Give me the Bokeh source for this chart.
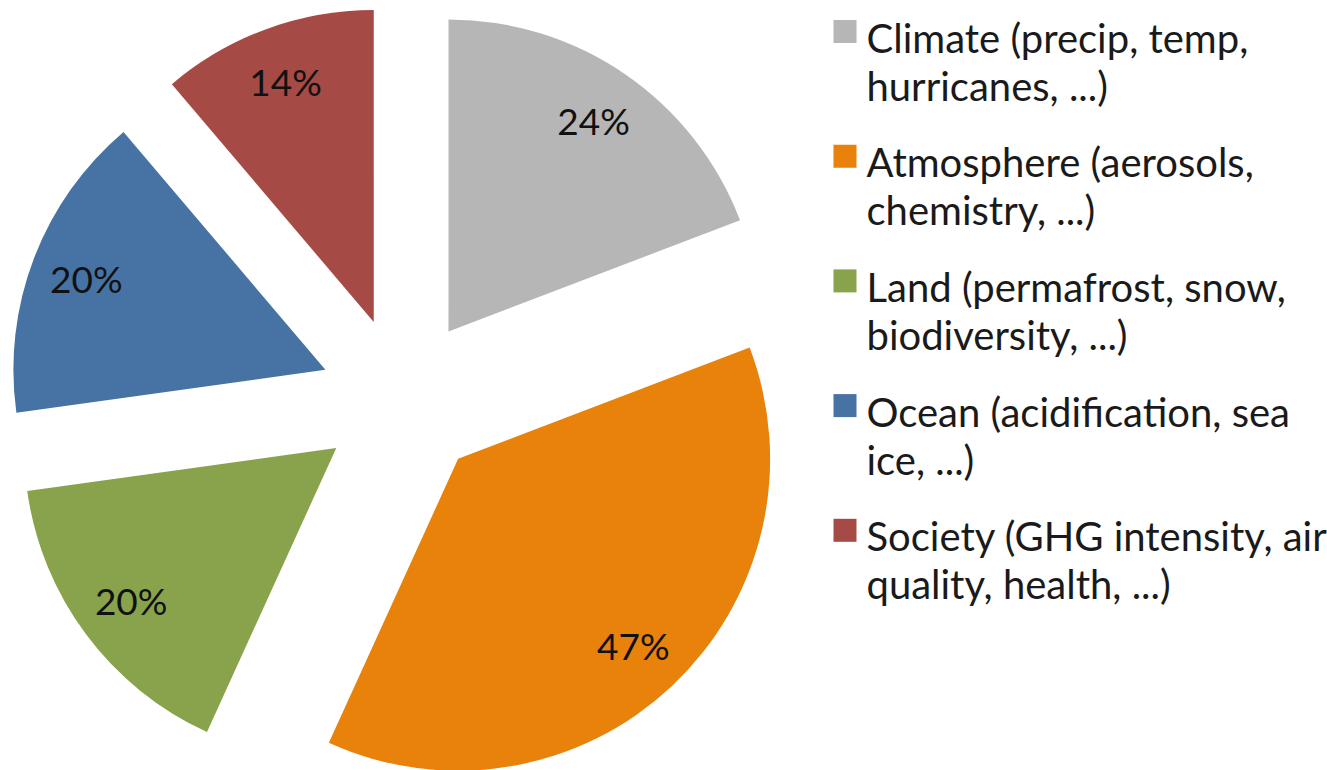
import math
from bokeh.plotting import figure
from bokeh.models import Range1d, ColumnDataSource
from bokeh.core.properties import value
from bokeh.embed import file_html
from bokeh.resources import INLINE

# ---- data ----
categories = ["Climate", "Atmosphere", "Land", "Ocean", "Society"]
values = [24, 47, 20, 20, 14]
pct_labels = ["24%", "47%", "20%", "20%", "14%"]
colors = ["#B6B6B6", "#E8820A", "#88A34B", "#4673A4", "#A64A45"]
legend_line1 = ["Climate (precip, temp,", "Atmosphere (aerosols,", "Land (permafrost, snow,",
                "Ocean (acidification, sea", "Society (GHG intensity, air"]
legend_line2 = ["hurricanes, ...)", "chemistry, ...)", "biodiversity, ...)",
                "ice, ...)", "quality, health, ...)"]

# ---- layout (screen px) ----
W, H = 1327, 770
CX, CY = 401.5, 398.5      # unexploded pie centre (screen coords)
R = 312                    # radius
EXPLODE = 82               # explode offset
LABEL_FRAC = 0.82
LEG_X_SQ = 844.5
LEG_Y0 = 31
LEG_STEP = 124.7
LEG_TEXT_X = 866

def sy(y):
    return H - y

total = sum(values)
starts, ends, xs, ys, lx, ly = [], [], [], [], [], []
acc = 0.0
for v in values:
    t0 = acc / total * 2 * math.pi
    acc += v
    t1 = acc / total * 2 * math.pi
    tm = (t0 + t1) / 2
    dx, dy = math.sin(tm), -math.cos(tm)       # screen direction
    ax, ay = CX + EXPLODE * dx, CY + EXPLODE * dy
    xs.append(ax)
    ys.append(sy(ay))
    starts.append(math.pi / 2 - t0)
    ends.append(math.pi / 2 - t1)
    lx.append(ax + LABEL_FRAC * R * dx)
    ly.append(sy(ay + LABEL_FRAC * R * dy))

src = ColumnDataSource(dict(x=xs, y=ys, start=starts, end=ends, color=colors,
                            lx=lx, ly=ly, lab=pct_labels))

p = figure(width=W, height=H, x_range=Range1d(0, W), y_range=Range1d(0, H),
           output_backend="svg", toolbar_location=None, tools="", min_border=0)
p.xaxis.visible = False
p.yaxis.visible = False
p.xgrid.visible = False
p.ygrid.visible = False
p.outline_line_color = None
p.background_fill_color = "white"
p.border_fill_color = "white"

p.wedge(x="x", y="y", radius=R, start_angle="start", end_angle="end",
        direction="clock", fill_color="color", line_color=None, source=src)

p.text(x="lx", y="ly", text="lab", source=src, text_align="center",
       text_baseline="middle", text_font=value("Lato"), text_font_size="37px",
       text_color="#111111")

# legend
sq_y = [sy(LEG_Y0 + i * LEG_STEP) for i in range(len(categories))]
p.scatter(x=[LEG_X_SQ] * len(categories), y=sq_y, marker="square", size=23,
          fill_color=colors, line_color=None)
t1_y = [sy(LEG_Y0 + i * LEG_STEP + 6) for i in range(len(categories))]
t2_y = [sy(LEG_Y0 + i * LEG_STEP + 54) for i in range(len(categories))]
p.text(x=[LEG_TEXT_X] * len(categories), y=t1_y, text=legend_line1,
       text_align="left", text_baseline="alphabetic", text_font=value("Lato"),
       text_font_size="40px", text_color="#1a1a1a")
p.text(x=[LEG_TEXT_X] * len(categories), y=t2_y, text=legend_line2,
       text_align="left", text_baseline="alphabetic", text_font=value("Lato"),
       text_font_size="40px", text_color="#1a1a1a")

open("out.html", "w").write(file_html(p, INLINE))
